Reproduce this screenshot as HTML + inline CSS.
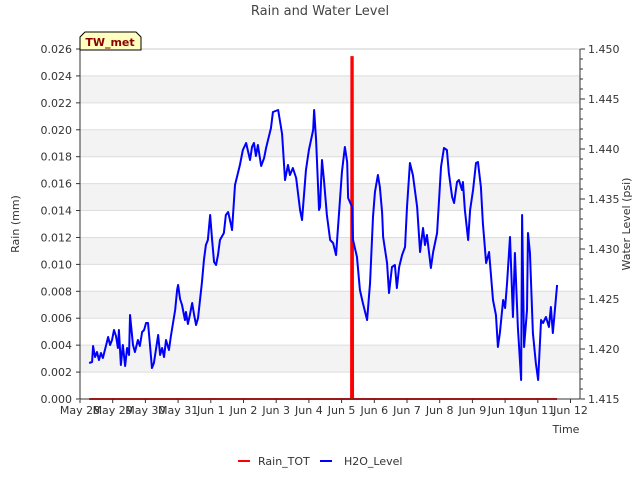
<!DOCTYPE html>
<html><head><meta charset="utf-8"><style>
body{margin:0;background:#fff;}
svg text{font-family:"DejaVu Sans","Liberation Sans",sans-serif;}
</style></head><body>
<svg id="c" width="640" height="480" viewBox="0 0 640 480" xmlns="http://www.w3.org/2000/svg">
<text x="320" y="15" text-anchor="middle" font-size="13" fill="#444">Rain and Water Level</text>
<g id="grid"></g>
<g id="series"></g>
<g id="axes"></g>
<text transform="translate(19,224) rotate(-90)" text-anchor="middle" font-size="11" fill="#333">Rain (mm)</text>
<text transform="translate(630,224) rotate(-90)" text-anchor="middle" font-size="11" fill="#333">Water Level (psi)</text>
<text x="566" y="433" text-anchor="middle" font-size="11" fill="#333">Time</text>
<g>
<path d="M80,50 L80,37 L85,32 L136,32 L141,37 L141,50 Z" fill="#ffffc0" stroke="#000" stroke-width="1"/>
<text x="110" y="46" text-anchor="middle" font-size="11" font-weight="bold" fill="#8b0000">TW_met</text>
</g>
<g>
<g><line x1="238" y1="461" x2="250" y2="461" stroke="#ff0000" stroke-width="2"/><text x="258" y="465" font-size="11" fill="#333">Rain_TOT</text></g>
<g><line x1="320" y1="461" x2="332" y2="461" stroke="#0000ff" stroke-width="2"/><text x="344" y="465" font-size="11" fill="#333">H2O_Level</text></g>
</g>
</svg>
<script>
const xTickLabels=["May 28","May 29","May 30","May 31","Jun 1","Jun 2","Jun 3","Jun 4","Jun 5","Jun 6","Jun 7","Jun 8","Jun 9","Jun 10","Jun 11","Jun 12"];
const rainTicks=[0,0.002,0.004,0.006,0.008,0.010,0.012,0.014,0.016,0.018,0.020,0.022,0.024,0.026];
const levelTicks=[1.415,1.420,1.425,1.430,1.435,1.440,1.445,1.450];
const rainTimes=[0.28,8.29,8.30,8.34,8.35,14.59];
const rainValues=[0,0,0.0254,0.0254,0,0];
const h2oTimes=[0.28,0.37,0.40,0.46,0.52,0.58,0.64,0.70,0.80,0.86,0.92,0.98,1.04,1.10,1.16,1.19,1.25,1.31,1.38,1.44,1.50,1.53,1.62,1.68,1.77,1.83,1.90,1.96,2.02,2.08,2.14,2.20,2.26,2.39,2.45,2.51,2.57,2.63,2.72,2.78,2.91,2.97,3.00,3.06,3.12,3.21,3.24,3.30,3.36,3.43,3.49,3.55,3.61,3.73,3.79,3.85,3.91,3.98,4.04,4.10,4.16,4.22,4.28,4.40,4.46,4.53,4.62,4.65,4.74,4.89,4.98,5.08,5.20,5.26,5.32,5.38,5.44,5.54,5.63,5.69,5.84,5.90,6.06,6.18,6.27,6.36,6.42,6.51,6.61,6.73,6.79,6.91,7.00,7.13,7.16,7.22,7.31,7.34,7.40,7.46,7.55,7.65,7.74,7.83,7.95,8.01,8.10,8.17,8.20,8.32,8.35,8.47,8.56,8.65,8.78,8.87,8.96,9.02,9.11,9.17,9.24,9.27,9.39,9.45,9.54,9.63,9.69,9.76,9.85,9.94,10.00,10.09,10.18,10.31,10.40,10.49,10.55,10.61,10.73,10.80,10.92,11.04,11.13,11.22,11.28,11.38,11.44,11.53,11.59,11.68,11.71,11.77,11.87,11.93,12.02,12.11,12.17,12.26,12.32,12.42,12.51,12.63,12.72,12.78,12.84,12.94,13.00,13.06,13.15,13.24,13.30,13.39,13.49,13.52,13.58,13.67,13.70,13.76,13.85,13.94,14.01,14.10,14.16,14.25,14.34,14.40,14.46,14.59];
const h2oValues=[1.4186,1.4187,1.4203,1.4192,1.4197,1.4189,1.4196,1.4191,1.4204,1.4212,1.4204,1.4209,1.4219,1.4213,1.4201,1.4219,1.4184,1.4204,1.4183,1.4201,1.4194,1.4234,1.4204,1.4197,1.4209,1.4203,1.4217,1.4219,1.4226,1.4226,1.4204,1.4181,1.4186,1.4214,1.4194,1.4201,1.4192,1.4209,1.4199,1.4213,1.4239,1.4259,1.4264,1.4250,1.4244,1.4229,1.4237,1.4225,1.4234,1.4246,1.4234,1.4224,1.4231,1.4267,1.4289,1.4304,1.4309,1.4334,1.4309,1.4287,1.4284,1.4294,1.4309,1.4316,1.4334,1.4337,1.4324,1.4319,1.4364,1.4384,1.4399,1.4406,1.4389,1.4402,1.4406,1.4393,1.4404,1.4383,1.4391,1.4401,1.4421,1.4437,1.4439,1.4415,1.4369,1.4384,1.4374,1.4381,1.4371,1.4339,1.4329,1.4379,1.4399,1.4419,1.4439,1.4409,1.4339,1.4342,1.4389,1.4369,1.4334,1.4309,1.4306,1.4294,1.4349,1.4377,1.4402,1.4387,1.4351,1.4342,1.4309,1.4292,1.4259,1.4246,1.4229,1.4266,1.4332,1.4357,1.4374,1.4362,1.4336,1.4312,1.4286,1.4256,1.4282,1.4284,1.4261,1.4282,1.4294,1.4302,1.4342,1.4386,1.4374,1.4342,1.4297,1.4321,1.4304,1.4314,1.4281,1.4297,1.4316,1.4382,1.4401,1.4399,1.4376,1.4352,1.4346,1.4367,1.4369,1.4359,1.4367,1.4339,1.4309,1.4339,1.4359,1.4386,1.4387,1.4362,1.4326,1.4286,1.4297,1.4249,1.4234,1.4202,1.4216,1.4249,1.4241,1.4266,1.4312,1.4232,1.4296,1.4222,1.4169,1.4334,1.4202,1.4239,1.4316,1.4296,1.4216,1.4186,1.4169,1.4229,1.4226,1.4232,1.4222,1.4242,1.4216,1.4264];

const NS="http://www.w3.org/2000/svg";
const L=80,R=580,T=49,B=399;
const xS=d=>L+d*32.7;
const yRain=v=>B-(v/0.026)*(B-T);
const yLev=v=>B-((v-1.415)/0.035)*(B-T);
function mk(tag,attrs,parent){const e=document.createElementNS(NS,tag);for(const k in attrs)e.setAttribute(k,attrs[k]);parent.appendChild(e);return e;}
const grid=document.getElementById('grid'),axes=document.getElementById('axes'),series=document.getElementById('series');
for(let i=1;i<rainTicks.length-1;i+=2){
  const b=mk('rect',{x:L,y:yRain(rainTicks[i+1]),width:R-L,height:yRain(rainTicks[i])-yRain(rainTicks[i+1]),fill:'#f3f3f3'},grid);
  
  
}
rainTicks.forEach((t,i)=>{
  const g=mk('line',{x1:L,x2:R,y1:yRain(t),y2:yRain(t),stroke:'#dddddd','stroke-width':1},grid);
  
  
  const tx=mk('text',{x:L-8,y:yRain(t)+4,'text-anchor':'end','font-size':11,fill:'#333'},axes);
  tx.textContent=t.toFixed(3);
  
  
  mk('line',{x1:L-4,x2:L,y1:yRain(t),y2:yRain(t),stroke:'#333'},axes);
});
levelTicks.forEach(t=>{
  const tx=mk('text',{x:R+8,y:yLev(t)+4,'font-size':11,fill:'#333'},axes);
  tx.textContent=t.toFixed(3);
  
  
  mk('line',{x1:R,x2:R+5,y1:yLev(t),y2:yLev(t),stroke:'#333'},axes);
});
for(let v=1.415;v<=1.4501;v+=0.001){mk('line',{x1:R,x2:R+3,y1:yLev(v),y2:yLev(v),stroke:'#333'},axes);}
xTickLabels.forEach((s,i)=>{
  const x=xS(i);
  mk('line',{x1:x,x2:x,y1:B,y2:B+4,stroke:'#333'},axes);
  const tx=mk('text',{x:x,y:B+15,'text-anchor':'middle','font-size':11,fill:'#333'},axes);
  tx.textContent=s;
  
  
});
mk('rect',{x:L,y:T,width:R-L,height:B-T,fill:'none',stroke:'#ccc'},axes);
mk('line',{x1:L,x2:R,y1:B,y2:B,stroke:'#333'},axes);
mk('line',{x1:L,x2:L,y1:T,y2:B,stroke:'#333'},axes);
mk('line',{x1:R,x2:R,y1:T,y2:B,stroke:'#333'},axes);
const rain=mk('polyline',{points:rainTimes.map((t,i)=>xS(t)+','+yRain(rainValues[i])).join(' '),fill:'none',stroke:'#ff0000','stroke-width':2},series);


const h2o=mk('polyline',{points:h2oTimes.map((t,i)=>xS(t)+','+yLev(h2oValues[i])).join(' '),fill:'none',stroke:'#0000ff','stroke-width':2,'stroke-linejoin':'round'},series);


</script>
</body></html>
